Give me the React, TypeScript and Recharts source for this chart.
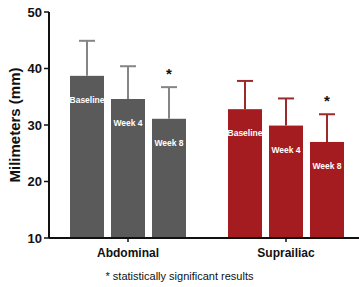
import React from 'react';
import { BarChart, Bar, XAxis, YAxis, Cell } from 'recharts';

const sites = ['Abdominal', 'Suprailiac'];
const baseline = [38.7, 32.8];
const week4 = [34.6, 29.9];
const week8 = [31.1, 27.0];
const baselineErr = [6.2, 5.0];
const week4Err = [5.8, 4.8];
const week8Err = [5.6, 4.9];
const significant = [false, false, true]; // per timepoint
const timepoints = ['Baseline', 'Week 4', 'Week 8'];
const yTicks = [10, 20, 30, 40, 50];

const barColors = ['#5a5a5a', '#a51c20'];
const errColors = ['#858585', '#9a2a2c'];
const Y_MIN = 10;

const data = sites.map((site, i) => ({
  site,
  baseline: baseline[i],
  week4: week4[i],
  week8: week8[i],
  baselineErr: baselineErr[i],
  week4Err: week4Err[i],
  week8Err: week8Err[i],
}));

const font = '"Liberation Sans", Arial, sans-serif';

// bar with upward error bar, inner label and optional asterisk
const makeShape = (key: string, label: string, star: boolean) => (props: any) => {
  const { x, y, width, height, payload, index } = props;
  const value = payload[key];
  const err = payload[key + 'Err'];
  const pxPerUnit = height / (value - Y_MIN);
  const errTop = y - err * pxPerUnit;
  const cx = x + width / 2;
  const stroke = errColors[index % errColors.length];
  return (
    <g>
      <rect x={x} y={y} width={width} height={height} fill={barColors[index % barColors.length]} />
      <line x1={cx} x2={cx} y1={y} y2={errTop} stroke={stroke} strokeWidth={2} />
      <line x1={cx - 8} x2={cx + 8} y1={errTop} y2={errTop} stroke={stroke} strokeWidth={2} />
      <text
        x={cx}
        y={y + 27}
        textAnchor="middle"
        fill="#fff"
        fontSize={8.5}
        fontWeight="bold"
        fontFamily={font}
      >
        {label}
      </text>
      {star && (
        <text
          x={cx}
          y={errTop - 8}
          textAnchor="middle"
          fill="#111"
          fontSize={15}
          fontWeight="bold"
          fontFamily={font}
        >
          *
        </text>
      )}
    </g>
  );
};

const keys = ['baseline', 'week4', 'week8'];

export default function App() {
  return (
    <div
      style={{
        position: 'absolute',
        left: 0,
        top: 0,
        width: 359,
        height: 287,
        overflow: 'hidden',
        background: '#fff',
        fontFamily: font,
      }}
    >
      <BarChart
        width={369}
        height={287}
        data={data}
        margin={{ top: 12, right: 4, bottom: 29, left: 0 }}
        barSize={34}
        barGap={7}
      >
        <YAxis
          width={49}
          domain={[10, 50]}
          ticks={yTicks}
          allowDataOverflow
          axisLine={{ stroke: '#111', strokeWidth: 2 }}
          tickLine={{ stroke: '#111', strokeWidth: 1.5 }}
          tickSize={5}
          tick={{ fill: '#111', fontSize: 13, fontWeight: 'bold', fontFamily: font }}
        />
        <XAxis
          dataKey="site"
          height={20}
          axisLine={{ stroke: '#111', strokeWidth: 2 }}
          tickLine={{ stroke: '#111', strokeWidth: 1.5 }}
          tickSize={4}
          tick={{ fill: '#111', fontSize: 12, fontWeight: 'bold', fontFamily: font, dy: 4 }}
        />
        {keys.map((k, i) => (
          <Bar
            key={k}
            dataKey={k}
            isAnimationActive={false}
            shape={makeShape(k, timepoints[i], significant[i])}
          >
            {data.map((d, j) => (
              <Cell key={d.site} fill={barColors[j]} />
            ))}
          </Bar>
        ))}
      </BarChart>
      <div
        style={{
          position: 'absolute',
          left: 14,
          top: 125,
          transform: 'translate(-50%, -50%) rotate(-90deg)',
          whiteSpace: 'nowrap',
          fontSize: 15,
          fontWeight: 'bold',
          color: '#111',
        }}
      >
        Milimeters (mm)
      </div>
      <div
        style={{
          position: 'absolute',
          left: 0,
          width: 359,
          top: 270,
          textAlign: 'center',
          fontSize: 11,
          color: '#111',
        }}
      >
        * statistically significant results
      </div>
    </div>
  );
}
